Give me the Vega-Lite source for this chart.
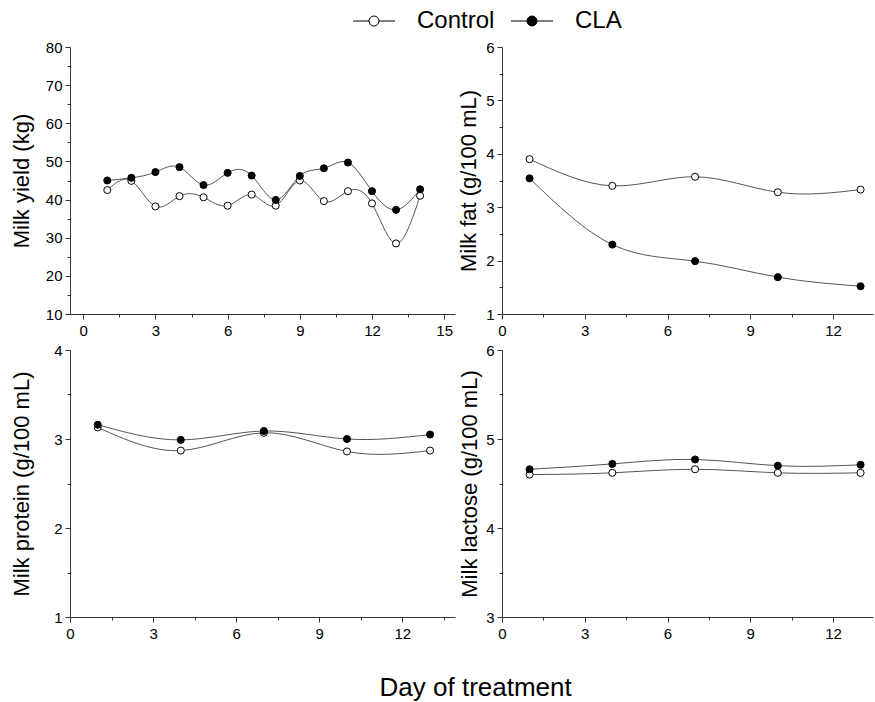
{
  "$schema": "https://vega.github.io/schema/vega-lite/v6.json",
  "background": "white",
  "padding": {"left": 10, "top": 9, "right": 1, "bottom": 5},
  "title": {"text": "Day of treatment", "orient": "bottom", "anchor": "middle", "offset": 34, "fontSize": 26, "font": "Liberation Sans", "fontWeight": "normal", "color": "black", "dx": 34},
  "data": {"values": [
    {"panel": "yield", "group": "Control", "day": 1, "value": 42.5},
    {"panel": "yield", "group": "Control", "day": 2, "value": 44.9},
    {"panel": "yield", "group": "Control", "day": 3, "value": 38.2},
    {"panel": "yield", "group": "Control", "day": 4, "value": 40.9},
    {"panel": "yield", "group": "Control", "day": 5, "value": 40.6},
    {"panel": "yield", "group": "Control", "day": 6, "value": 38.4},
    {"panel": "yield", "group": "Control", "day": 7, "value": 41.3},
    {"panel": "yield", "group": "Control", "day": 8, "value": 38.4},
    {"panel": "yield", "group": "Control", "day": 9, "value": 45.0},
    {"panel": "yield", "group": "Control", "day": 10, "value": 39.6},
    {"panel": "yield", "group": "Control", "day": 11, "value": 42.2},
    {"panel": "yield", "group": "Control", "day": 12, "value": 39.0},
    {"panel": "yield", "group": "Control", "day": 13, "value": 28.5},
    {"panel": "yield", "group": "Control", "day": 14, "value": 41.0},
    {"panel": "yield", "group": "CLA", "day": 1, "value": 45.0},
    {"panel": "yield", "group": "CLA", "day": 2, "value": 45.7},
    {"panel": "yield", "group": "CLA", "day": 3, "value": 47.2},
    {"panel": "yield", "group": "CLA", "day": 4, "value": 48.5},
    {"panel": "yield", "group": "CLA", "day": 5, "value": 43.8},
    {"panel": "yield", "group": "CLA", "day": 6, "value": 47.0},
    {"panel": "yield", "group": "CLA", "day": 7, "value": 46.3},
    {"panel": "yield", "group": "CLA", "day": 8, "value": 39.9},
    {"panel": "yield", "group": "CLA", "day": 9, "value": 46.2},
    {"panel": "yield", "group": "CLA", "day": 10, "value": 48.2},
    {"panel": "yield", "group": "CLA", "day": 11, "value": 49.7},
    {"panel": "yield", "group": "CLA", "day": 12, "value": 42.2},
    {"panel": "yield", "group": "CLA", "day": 13, "value": 37.3},
    {"panel": "yield", "group": "CLA", "day": 14, "value": 42.7},
    {"panel": "fat", "group": "Control", "day": 1, "value": 3.90},
    {"panel": "fat", "group": "Control", "day": 4, "value": 3.40},
    {"panel": "fat", "group": "Control", "day": 7, "value": 3.57},
    {"panel": "fat", "group": "Control", "day": 10, "value": 3.28},
    {"panel": "fat", "group": "Control", "day": 13, "value": 3.33},
    {"panel": "fat", "group": "CLA", "day": 1, "value": 3.54},
    {"panel": "fat", "group": "CLA", "day": 4, "value": 2.30},
    {"panel": "fat", "group": "CLA", "day": 7, "value": 1.99},
    {"panel": "fat", "group": "CLA", "day": 10, "value": 1.69},
    {"panel": "fat", "group": "CLA", "day": 13, "value": 1.52},
    {"panel": "protein", "group": "Control", "day": 1, "value": 3.13},
    {"panel": "protein", "group": "Control", "day": 4, "value": 2.87},
    {"panel": "protein", "group": "Control", "day": 7, "value": 3.07},
    {"panel": "protein", "group": "Control", "day": 10, "value": 2.86},
    {"panel": "protein", "group": "Control", "day": 13, "value": 2.87},
    {"panel": "protein", "group": "CLA", "day": 1, "value": 3.16},
    {"panel": "protein", "group": "CLA", "day": 4, "value": 2.99},
    {"panel": "protein", "group": "CLA", "day": 7, "value": 3.09},
    {"panel": "protein", "group": "CLA", "day": 10, "value": 3.00},
    {"panel": "protein", "group": "CLA", "day": 13, "value": 3.05},
    {"panel": "lactose", "group": "Control", "day": 1, "value": 4.60},
    {"panel": "lactose", "group": "Control", "day": 4, "value": 4.62},
    {"panel": "lactose", "group": "Control", "day": 7, "value": 4.66},
    {"panel": "lactose", "group": "Control", "day": 10, "value": 4.62},
    {"panel": "lactose", "group": "Control", "day": 13, "value": 4.62},
    {"panel": "lactose", "group": "CLA", "day": 1, "value": 4.66},
    {"panel": "lactose", "group": "CLA", "day": 4, "value": 4.72},
    {"panel": "lactose", "group": "CLA", "day": 7, "value": 4.77},
    {"panel": "lactose", "group": "CLA", "day": 10, "value": 4.70},
    {"panel": "lactose", "group": "CLA", "day": 13, "value": 4.71}
  ]},
  "columns": 2,
  "spacing": {"row": 36, "column": 47},
  "bounds": "flush",
  "concat": [
    {
      "width": 385, "height": 267,
      "transform": [{"filter": "datum.panel === 'yield'"}],
      "layer": [
        {
          "mark": {"type": "line", "interpolate": "natural", "color": "#555555", "strokeWidth": 1},
          "encoding": {
            "x": {"field": "day", "type": "quantitative", "scale": {"domain": [-0.55, 15.45], "nice": false, "zero": false}, "axis": {"values": [0, 3, 6, 9, 12, 15], "title": null}},
            "y": {"field": "value", "type": "quantitative", "scale": {"domain": [10, 80], "nice": false, "zero": false}, "axis": {"values": [10, 20, 30, 40, 50, 60, 70, 80], "title": "Milk yield (kg)", "titlePadding": 12}},
            "detail": {"field": "group"}
          }
        },
        {
          "mark": {"type": "point", "shape": "circle", "filled": true, "size": 50, "stroke": "black", "strokeWidth": 1, "opacity": 1},
          "encoding": {
            "x": {"field": "day", "type": "quantitative", "axis": {"orient": "bottom", "values": [1.5, 4.5, 7.5, 10.5, 13.5], "labels": false, "domain": false, "tickSize": 3, "title": null}},
            "y": {"field": "value", "type": "quantitative", "axis": {"orient": "left", "values": [15, 25, 35, 45, 55, 65, 75], "labels": false, "domain": false, "tickSize": 3, "title": null}},
            "fill": {"field": "group", "type": "nominal", "scale": {"domain": ["Control", "CLA"], "range": ["white", "black"]}, "legend": {"orient": "none", "legendX": 271, "legendY": -38, "direction": "horizontal", "title": null}}
          }
        }
      ],
      "resolve": {"axis": {"x": "independent", "y": "independent"}}
    },
    {
      "width": 371, "height": 267,
      "transform": [{"filter": "datum.panel === 'fat'"}],
      "layer": [
        {
          "mark": {"type": "line", "interpolate": "natural", "color": "#555555", "strokeWidth": 1},
          "encoding": {
            "x": {"field": "day", "type": "quantitative", "scale": {"domain": [0, 13.45], "nice": false, "zero": false}, "axis": {"values": [0, 3, 6, 9, 12], "title": null}},
            "y": {"field": "value", "type": "quantitative", "scale": {"domain": [1, 6], "nice": false, "zero": false}, "axis": {"values": [1, 2, 3, 4, 5, 6], "title": "Milk fat (g/100 mL)", "titlePadding": 5}},
            "detail": {"field": "group"}
          }
        },
        {
          "mark": {"type": "point", "shape": "circle", "filled": true, "size": 50, "stroke": "black", "strokeWidth": 1, "opacity": 1},
          "encoding": {
            "x": {"field": "day", "type": "quantitative", "axis": {"orient": "bottom", "values": [1.5, 4.5, 7.5, 10.5], "labels": false, "domain": false, "tickSize": 3, "title": null}},
            "y": {"field": "value", "type": "quantitative", "axis": {"orient": "left", "values": [1.5, 2.5, 3.5, 4.5, 5.5], "labels": false, "domain": false, "tickSize": 3, "title": null}},
            "fill": {"field": "group", "type": "nominal", "scale": {"domain": ["Control", "CLA"], "range": ["white", "black"]}, "legend": {"orient": "none", "legendX": 271, "legendY": -38, "direction": "horizontal", "title": null}}
          }
        }
      ],
      "resolve": {"axis": {"x": "independent", "y": "independent"}}
    },
    {
      "width": 385, "height": 267,
      "transform": [{"filter": "datum.panel === 'protein'"}],
      "layer": [
        {
          "mark": {"type": "line", "interpolate": "natural", "color": "#555555", "strokeWidth": 1},
          "encoding": {
            "x": {"field": "day", "type": "quantitative", "scale": {"domain": [0, 13.9], "nice": false, "zero": false}, "axis": {"values": [0, 3, 6, 9, 12], "title": null}},
            "y": {"field": "value", "type": "quantitative", "scale": {"domain": [1, 4], "nice": false, "zero": false}, "axis": {"values": [1, 2, 3, 4], "title": "Milk protein (g/100 mL)", "titlePadding": 20}},
            "detail": {"field": "group"}
          }
        },
        {
          "mark": {"type": "point", "shape": "circle", "filled": true, "size": 50, "stroke": "black", "strokeWidth": 1, "opacity": 1},
          "encoding": {
            "x": {"field": "day", "type": "quantitative", "axis": {"orient": "bottom", "values": [1.5, 4.5, 7.5, 10.5, 13.5], "labels": false, "domain": false, "tickSize": 3, "title": null}},
            "y": {"field": "value", "type": "quantitative", "axis": {"orient": "left", "values": [1.5, 2.5, 3.5], "labels": false, "domain": false, "tickSize": 3, "title": null}},
            "fill": {"field": "group", "type": "nominal", "scale": {"domain": ["Control", "CLA"], "range": ["white", "black"]}, "legend": {"orient": "none", "legendX": 271, "legendY": -38, "direction": "horizontal", "title": null}}
          }
        }
      ],
      "resolve": {"axis": {"x": "independent", "y": "independent"}}
    },
    {
      "width": 371, "height": 267,
      "transform": [{"filter": "datum.panel === 'lactose'"}],
      "layer": [
        {
          "mark": {"type": "line", "interpolate": "natural", "color": "#555555", "strokeWidth": 1},
          "encoding": {
            "x": {"field": "day", "type": "quantitative", "scale": {"domain": [0, 13.45], "nice": false, "zero": false}, "axis": {"values": [0, 3, 6, 9, 12], "title": null}},
            "y": {"field": "value", "type": "quantitative", "scale": {"domain": [3, 6], "nice": false, "zero": false}, "axis": {"values": [3, 4, 5, 6], "title": "Milk lactose (g/100 mL)", "titlePadding": 4}},
            "detail": {"field": "group"}
          }
        },
        {
          "mark": {"type": "point", "shape": "circle", "filled": true, "size": 50, "stroke": "black", "strokeWidth": 1, "opacity": 1},
          "encoding": {
            "x": {"field": "day", "type": "quantitative", "axis": {"orient": "bottom", "values": [1.5, 4.5, 7.5, 10.5], "labels": false, "domain": false, "tickSize": 3, "title": null}},
            "y": {"field": "value", "type": "quantitative", "axis": {"orient": "left", "values": [3.5, 4.5, 5.5], "labels": false, "domain": false, "tickSize": 3, "title": null}},
            "fill": {"field": "group", "type": "nominal", "scale": {"domain": ["Control", "CLA"], "range": ["white", "black"]}, "legend": {"orient": "none", "legendX": 271, "legendY": -38, "direction": "horizontal", "title": null}}
          }
        }
      ],
      "resolve": {"axis": {"x": "independent", "y": "independent"}}
    }
  ],
  "resolve": {"scale": {"x": "independent", "y": "independent", "fill": "shared"}, "legend": {"fill": "shared"}},
  "config": {
    "font": "Liberation Sans",
    "view": {"stroke": null},
    "axis": {
      "grid": false,
      "domainColor": "#333333",
      "tickColor": "#333333",
      "domainWidth": 1,
      "tickWidth": 1,
      "tickSize": 5,
      "labelColor": "black",
      "labelFont": "Liberation Sans",
      "labelFontSize": 15,
      "labelPadding": 3,
      "labelFlush": false,
      "titleFont": "Liberation Sans",
      "titleFontSize": 22,
      "titleFontWeight": "normal",
      "titleColor": "black"
    },
    "axisX": {"labelPadding": 4},
    "legend": {
      "padding": 0,
      "symbolType": "M2.6,0A0.5,0.5,0,1,1,1.6,0A0.5,0.5,0,1,1,2.6,0ZM0,0L1.6,0M2.6,0L4.2,0",
      "symbolSize": 400,
      "symbolStrokeColor": "black",
      "symbolStrokeWidth": 1,
      "symbolOpacity": 1,
      "labelFont": "Liberation Sans",
      "labelFontSize": 24,
      "labelColor": "black",
      "labelOffset": 52,
      "columnPadding": 4
    }
  }
}
